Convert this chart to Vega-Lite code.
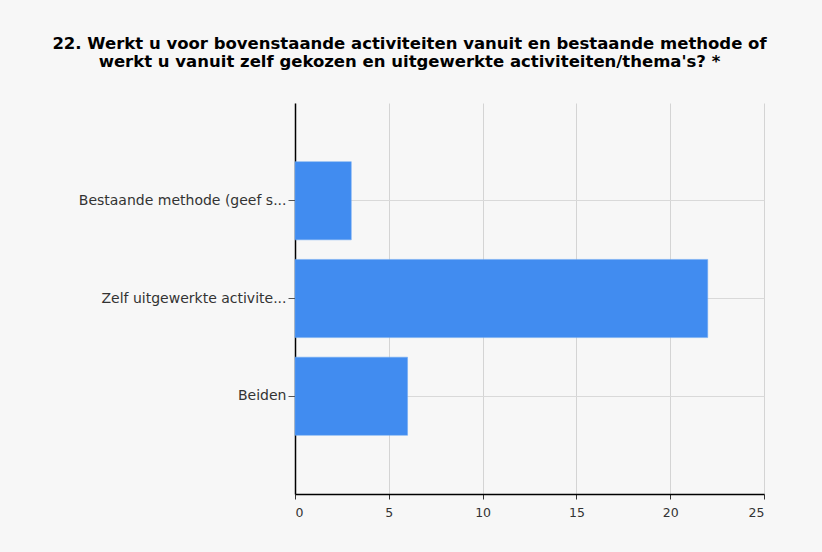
{
  "$schema": "https://vega.github.io/schema/vega-lite/v6.json",
  "width": 469,
  "height": 391,
  "autosize": {"type": "none"},
  "padding": {"left": 295, "top": 103, "right": 58, "bottom": 58},
  "background": "#f7f7f7",
  "title": {
    "text": ["22. Werkt u voor bovenstaande activiteiten vanuit en bestaande methode of", "werkt u vanuit zelf gekozen en uitgewerkte activiteiten/thema's? *"],
    "font": "DejaVu Sans",
    "fontSize": 16.5,
    "fontWeight": "bold",
    "color": "#000000",
    "anchor": "middle",
    "dx": -120,
    "offset": 33,
    "lineHeight": 18
  },
  "data": {
    "values": [
      {"antwoord": "Bestaande methode (geef s...", "aantal": 3},
      {"antwoord": "Zelf uitgewerkte activite...", "aantal": 22},
      {"antwoord": "Beiden", "aantal": 6}
    ]
  },
  "mark": {"type": "bar", "color": "#418cf0", "stroke": "#6fa8f3", "strokeWidth": 0.5},
  "encoding": {
    "y": {
      "field": "antwoord",
      "type": "nominal",
      "sort": null,
      "title": null,
      "scale": {"paddingInner": 0.2, "paddingOuter": 0.6},
      "axis": {
        "labelFont": "DejaVu Sans",
        "labelFontSize": 14,
        "labelColor": "#333333",
        "labelLimit": 300,
        "labelPadding": 2,
        "tickColor": "#555555",
        "tickSize": 7,
        "domainColor": "#000000",
        "domainWidth": 1.5,
        "grid": true,
        "gridColor": "#d9d9d9",
        "gridWidth": 1
      }
    },
    "x": {
      "field": "aantal",
      "type": "quantitative",
      "title": null,
      "scale": {"domain": [0, 25], "nice": false},
      "axis": {
        "values": [0, 5, 10, 15, 20, 25],
        "labelFont": "DejaVu Sans",
        "labelFontSize": 12.5,
        "labelColor": "#333333",
        "labelPadding": 7,
        "tickColor": "#333333",
        "tickSize": 5,
        "domainColor": "#000000",
        "domainWidth": 1.5,
        "grid": true,
        "gridColor": "#d4d4d4",
        "gridWidth": 1
      }
    }
  },
  "config": {
    "view": {"stroke": null}
  }
}
